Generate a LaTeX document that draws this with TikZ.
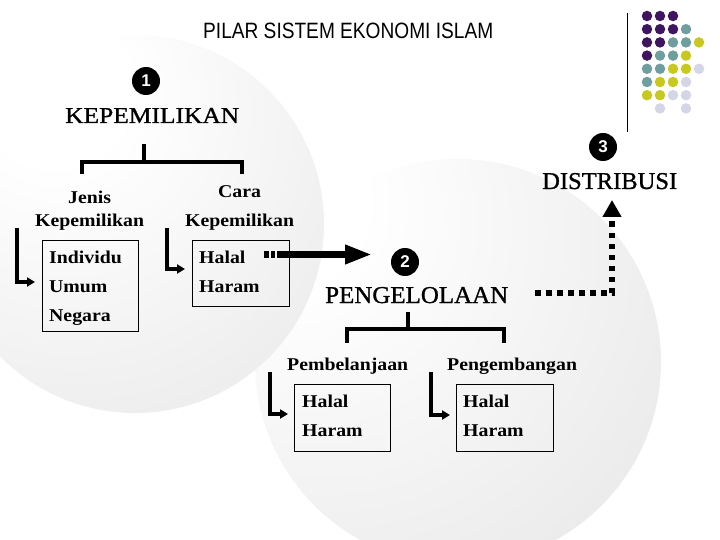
\documentclass[tikz,border=0pt]{standalone}
\usepackage{fontspec}
\setmainfont{Liberation Serif}
\setsansfont{Liberation Sans}
\newfontfamily\bigfont{Liberation Serif}[FakeBold=1]
\usetikzlibrary{arrows.meta}
\definecolor{dpurple}{HTML}{3F1560}
\definecolor{dteal}{HTML}{6F9E9E}
\definecolor{dyellow}{HTML}{C9C81E}
\definecolor{dlav}{HTML}{D5D5E8}
\pgfdeclareradialshading{sphL}{\pgfpoint{-12bp}{20bp}}{color(0bp)=(white); color(10bp)=(white); color(70bp)=(black!14); color(100bp)=(black!14)}
\pgfdeclareradialshading{sphR}{\pgfpoint{-24bp}{22bp}}{color(0bp)=(white); color(10bp)=(white); color(80bp)=(black!16); color(100bp)=(black!16)}
\newcommand\hsx[1]{\scalebox{1.1}[1]{#1}}
\begin{document}
\begin{tikzpicture}[x=1pt,y=-1pt,
  box/.style={draw=black, line width=1pt, inner sep=0pt, anchor=north west},
  lbl/.style={anchor=base west, inner sep=0pt, font=\fontsize{18}{20}\selectfont\bfseries},
  big/.style={anchor=base west, inner sep=0pt, font=\bigfont\fontsize{23.5}{28}\selectfont},
  bracket/.style={line width=4pt, line cap=butt, line join=miter},
  elbow/.style={line width=3.2pt, line join=miter, -{Triangle[length=8pt,width=9pt]}},
  marker/.style={circle, fill=black, text=white, minimum size=28pt, inner sep=0pt, font=\sffamily\bfseries\fontsize{17}{17}\selectfont},
  dot/.style={circle, inner sep=0pt, minimum size=10.5pt}]
\useasboundingbox (0,0) rectangle (720,540);
\fill[white] (0,0) rectangle (720,540);
% circles
\shade[shading=sphR] (458,362) circle (203);
\shade[shading=sphL] (135,224) circle (189);
% title
\node[anchor=base west, inner sep=0pt] (title) at (203,39) {\resizebox{290pt}{15.5pt}{\sffamily PILAR SISTEM EKONOMI ISLAM}};
% decoration
\draw[line width=1pt] (627,13) -- (627,132);
\foreach \cl/\i/\j in {dpurple/0/0,dpurple/1/0,dpurple/2/0,
  dpurple/0/1,dpurple/1/1,dpurple/2/1,dteal/3/1,
  dpurple/0/2,dpurple/1/2,dteal/2/2,dteal/3/2,dyellow/4/2,
  dpurple/0/3,dteal/1/3,dteal/2/3,dyellow/3/3,
  dteal/0/4,dteal/1/4,dyellow/2/4,dyellow/3/4,dlav/4/4,
  dteal/0/5,dyellow/1/5,dyellow/2/5,dlav/3/5,
  dyellow/0/6,dyellow/1/6,dlav/2/6,dlav/3/6,
  dlav/1/7,dlav/3/7}
  \node[dot, fill=\cl] at ({647+13*\i},{16+13.2*\j}) {};
% markers
\node[marker] (m1) at (146,81) {1};
\node[marker] (m2) at (405,262) {2};
\node[marker] (m3) at (603,147) {3};
% main labels
\node[big] (kep) at (65,123) {\resizebox{174pt}{15pt}{KEPEMILIKAN}};
\node[big] (dis) at (542,189) {\resizebox{135pt}{16pt}{DISTRIBUSI}};
\node[big] (pen) at (325,303) {\resizebox{183pt}{16pt}{PENGELOLAAN}};
% bracket 1
\coordinate (k1) at (144,144);
\coordinate (k2) at (144,162);
\coordinate (k3) at (82,174);
\coordinate (k4) at (242,174);
\draw[bracket] (k1) -- (k2);
\draw[bracket] (k3) |- (k2) -| (k4);
% sub labels 1
\node[lbl] (jenis) at (68,204) {\hsx{Jenis}};
\node[lbl] (kepl) at (35,226) {\hsx{Kepemilikan}};
\node[lbl] (cara) at (218,197) {\hsx{Cara}};
\node[lbl] (kepr) at (185,226) {\hsx{Kepemilikan}};
% boxes 1
\node[box, minimum width=96pt, minimum height=91pt] (b1) at (42,240) {};
\node[box, minimum width=97pt, minimum height=66pt] (b2) at (192,240) {};
\node[lbl] (ind) at (49,263) {\hsx{Individu}};
\node[lbl] (umum) at (49,292.5) {\hsx{Umum}};
\node[lbl] (neg) at (49,321) {\hsx{Negara}};
\node[lbl] (hal1) at (199,263) {\hsx{Halal}};
\node[lbl] (har1) at (199,292.5) {\hsx{Haram}};
% elbows 1
\coordinate (e1a) at (17,228);
\coordinate (e1b) at (35,282);
\coordinate (e2a) at (167,228);
\coordinate (e2b) at (185,269);
\draw[elbow] (e1a) |- (e1b);
\draw[elbow] (e2a) |- (e2b);
% big arrow to 2
\coordinate (a2s) at (264,254.5);
\coordinate (a2e) at (372,254.5);
\draw[line width=7.5pt, dash pattern=on 5pt off 2pt on 4pt off 2pt on 300pt off 1pt, -{Triangle[length=27pt,width=18pt]}] (a2s) -- (a2e);
% dotted arrow to distribusi
\coordinate (d0) at (535,293);
\coordinate (d1) at (612,200);
\draw[line width=5.5pt, dash pattern=on 5.5pt off 5.5pt, -{Triangle[length=17pt,width=18pt]}] (d0) -| (d1);
% bracket 2
\coordinate (p1) at (408,312);
\coordinate (p2) at (408,329);
\coordinate (p3) at (347,343);
\coordinate (p4) at (504,343);
\draw[bracket] (p1) -- (p2);
\draw[bracket] (p3) |- (p2) -| (p4);
\node[lbl] (pemb) at (287,370) {\hsx{Pembelanjaan}};
\node[lbl] (peng) at (447,370) {\hsx{Pengembangan}};
% boxes 2
\node[box, minimum width=96pt, minimum height=67pt] (b3) at (294,384) {};
\node[box, minimum width=97pt, minimum height=67pt] (b4) at (456,384) {};
\node[lbl] (hal3) at (302,407) {\hsx{Halal}};
\node[lbl] (har3) at (302,436) {\hsx{Haram}};
\node[lbl] (hal4) at (463,407) {\hsx{Halal}};
\node[lbl] (har4) at (463,436) {\hsx{Haram}};
% elbows 2
\coordinate (e3a) at (270,372);
\coordinate (e3b) at (288,414);
\coordinate (e4a) at (431,372);
\coordinate (e4b) at (450,415);
\draw[elbow] (e3a) |- (e3b);
\draw[elbow] (e4a) |- (e4b);
\end{tikzpicture}
\end{document}
